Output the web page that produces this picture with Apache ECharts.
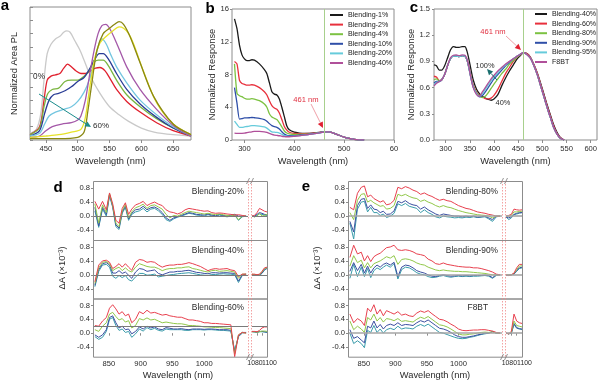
<!DOCTYPE html>
<html><head><meta charset="utf-8">
<script src="https://cdn.jsdelivr.net/npm/echarts@6/dist/echarts.min.js"></script>
<style>html,body{margin:0;padding:0;background:#fff}#c{width:600px;height:383px}</style>
</head><body><div id="c"></div>
<script>
// ---------------- Panel a : normalized PL ----------------
const aGrayX   = [425,435,442,447,452,458,465,472,478,483,488,495,503,510,520,535,550,565,580,600,620,650,678];
const aGrayY   = [0.05,0.08,0.2,0.45,0.65,0.72,0.76,0.78,0.81,0.82,0.81,0.75,0.68,0.6,0.48,0.35,0.25,0.19,0.14,0.09,0.06,0.04,0.03];
const aRedX    = [425,440,447,452,458,465,472,478,484,490,497,505,512,520,528,535,543,551,561,577,598,624,650,678];
const aRedY    = [0.04,0.1,0.3,0.45,0.48,0.49,0.5,0.54,0.57,0.55,0.52,0.5,0.5,0.52,0.54,0.545,0.52,0.46,0.38,0.29,0.21,0.13,0.07,0.03];
const aGreenX  = [425,440,447,453,460,470,480,490,500,510,518,525,532,540,548,561,577,598,624,650,678];
const aGreenY  = [0.04,0.09,0.25,0.35,0.38,0.39,0.44,0.45,0.45,0.48,0.52,0.58,0.6,0.6,0.56,0.45,0.34,0.25,0.16,0.09,0.03];
const aBlueX   = [425,440,448,455,462,470,480,490,500,510,518,526,534,540,548,561,577,598,624,650,678];
const aBlueY   = [0.03,0.07,0.2,0.3,0.34,0.35,0.37,0.4,0.44,0.47,0.53,0.6,0.65,0.65,0.61,0.5,0.38,0.27,0.17,0.09,0.03];
const aCyanX   = [425,440,448,455,465,478,490,500,510,518,527,532,538,545,552,561,577,598,624,650,678];
const aCyanY   = [0.03,0.05,0.12,0.18,0.21,0.23,0.25,0.29,0.36,0.45,0.6,0.7,0.76,0.72,0.64,0.55,0.43,0.3,0.19,0.1,0.03];
const aPurpleX = [425,440,450,460,475,490,500,505,512,519,526,532,538,544,550,561,577,598,624,650,678];
const aPurpleY = [0.02,0.03,0.07,0.1,0.12,0.13,0.15,0.18,0.3,0.5,0.68,0.8,0.86,0.87,0.84,0.73,0.55,0.38,0.23,0.11,0.03];
const aYellowX = [425,450,470,490,505,512,519,527,535,545,555,565,572,580,588,603,624,650,678];
const aYellowY = [0.02,0.03,0.04,0.06,0.08,0.17,0.4,0.62,0.73,0.78,0.82,0.85,0.84,0.8,0.72,0.52,0.28,0.12,0.04];
const aOliveX  = [425,470,500,510,516,522,530,540,550,558,565,572,582,598,619,650,678];
const aOliveY  = [0.01,0.01,0.02,0.06,0.22,0.42,0.67,0.8,0.84,0.87,0.89,0.87,0.78,0.58,0.33,0.12,0.04];
const aXTicks  = [450,500,550,600,650];

// ---------------- Panel b : response, low blending ----------------
const bNames = ['Blending-1%','Blending-2%','Blending-4%','Blending-10%','Blending-20%','Blending-40%'];
const bX      = [280,285,290,295,300,305,310,315,320,330,340,345,350,355,360,365,370,375,380,385,390,400,410,420,430,440,450,461,470,480,490,500,510,520,530,540];
const b1Y     = [14.8,13.6,11.6,10.4,9.9,9.7,9.7,9.8,9.75,9.3,8.6,8.1,7.0,5.9,5.6,5.5,5.0,4.0,2.85,1.7,1.25,0.95,0.85,0.8,0.82,0.86,0.92,1.0,0.98,0.82,0.58,0.36,0.2,0.08,0.02,0.0];
const b2Y     = [9.6,9.3,7.3,6.9,6.8,6.7,6.7,6.75,6.7,6.4,5.9,5.5,4.8,4.2,3.9,3.75,3.3,2.5,1.65,1.2,0.95,0.8,0.78,0.78,0.8,0.85,0.92,1.0,0.98,0.82,0.58,0.36,0.2,0.08,0.02,0.0];
const b4Y     = [9.3,5.7,5.4,5.3,5.1,5.0,5.0,5.05,5.0,4.8,4.4,4.0,3.2,2.8,2.65,2.5,2.1,1.6,1.1,0.85,0.75,0.68,0.68,0.7,0.75,0.82,0.9,1.0,0.98,0.82,0.58,0.36,0.2,0.08,0.02,0.0];
const b10Y    = [6.4,4.5,2.55,2.6,2.7,2.7,2.72,2.75,2.72,2.65,2.5,2.3,2.0,1.75,1.62,1.55,1.35,1.0,0.72,0.58,0.52,0.52,0.58,0.64,0.7,0.78,0.88,1.0,0.98,0.82,0.58,0.36,0.2,0.08,0.02,0.0];
const b20Y    = [2.3,1.9,1.55,1.55,1.6,1.65,1.7,1.75,1.75,1.7,1.6,1.45,1.2,1.0,0.95,0.92,0.85,0.7,0.55,0.46,0.44,0.46,0.54,0.6,0.68,0.77,0.87,1.0,0.98,0.82,0.58,0.36,0.2,0.08,0.02,0.0];
const b40Y    = [0.85,0.82,0.8,0.82,0.85,0.9,0.95,1.0,1.05,1.05,1.0,0.92,0.8,0.68,0.6,0.56,0.52,0.46,0.42,0.4,0.4,0.45,0.52,0.6,0.68,0.77,0.87,1.0,0.98,0.82,0.58,0.36,0.2,0.08,0.02,0.0];
const bXTicks = [300,400,500,600];

// ---------------- Panel c : response, high blending ----------------
const cNames = ['Blending-40%','Blending-60%','Blending-80%','Blending-90%','Blending-95%','F8BT'];
const cX      = [276,281,287,292,298,304,310,316,322,328,334,340,344,348,352,357,364,370,376,382,388,394,400,408,416,424,432,440,448,455,461,468,475,482,490,497,503,510,517,523,530,537,545];
const c40Y    = [0.86,0.85,0.8,0.8,0.85,0.94,1.03,1.07,1.06,1.06,1.07,1.07,1.02,0.93,0.82,0.69,0.58,0.53,0.5,0.48,0.465,0.455,0.47,0.52,0.62,0.71,0.79,0.86,0.93,0.97,1.0,0.99,0.95,0.87,0.76,0.64,0.53,0.4,0.28,0.18,0.09,0.03,0.0];
const c60Y    = [0.73,0.72,0.68,0.69,0.75,0.85,0.93,0.96,0.96,0.955,0.965,0.96,0.92,0.84,0.74,0.63,0.55,0.51,0.49,0.475,0.47,0.48,0.51,0.58,0.67,0.76,0.83,0.9,0.95,0.98,1.0,0.99,0.95,0.87,0.76,0.63,0.52,0.39,0.27,0.17,0.08,0.03,0.0];
const c80Y    = [0.69,0.7,0.68,0.69,0.75,0.85,0.93,0.96,0.96,0.955,0.965,0.96,0.92,0.83,0.73,0.62,0.54,0.5,0.485,0.5,0.54,0.59,0.64,0.7,0.76,0.81,0.87,0.91,0.95,0.98,1.0,0.98,0.94,0.86,0.74,0.61,0.5,0.37,0.25,0.15,0.07,0.02,0.0];
const c90Y    = [0.65,0.67,0.67,0.69,0.75,0.85,0.93,0.96,0.96,0.955,0.965,0.96,0.92,0.83,0.72,0.61,0.53,0.495,0.51,0.55,0.6,0.65,0.7,0.75,0.8,0.85,0.89,0.93,0.96,0.985,1.0,0.98,0.94,0.86,0.74,0.61,0.5,0.37,0.25,0.15,0.07,0.02,0.0];
const c95Y    = [0.63,0.66,0.67,0.69,0.75,0.85,0.93,0.96,0.96,0.955,0.965,0.96,0.92,0.83,0.72,0.61,0.53,0.5,0.53,0.58,0.63,0.68,0.72,0.77,0.82,0.86,0.9,0.93,0.96,0.985,1.0,0.98,0.94,0.86,0.74,0.61,0.5,0.37,0.25,0.15,0.07,0.02,0.0];
const cF8Y    = [0.62,0.65,0.67,0.69,0.75,0.85,0.94,0.97,0.975,0.965,0.975,0.97,0.93,0.84,0.72,0.6,0.52,0.5,0.55,0.6,0.65,0.7,0.74,0.79,0.83,0.87,0.9,0.93,0.96,0.985,1.0,0.98,0.94,0.86,0.74,0.61,0.5,0.37,0.25,0.15,0.07,0.02,0.0];
const cXTicks = [300,350,400,450,500,550,600];

// ---------------- Panels d / e : transient absorption ----------------
const dX  = [828,834,840,846,851,856, 861,866,871,876,881,886, 892,898,904,910,916,922, 928,934,940,946,952,958, 964,970,976,982,988,994, 1000,1006,1012,1018,1024,1030, 1036,1042,1048,1054,1060,1066];
const dXR = [1070,1075,1080,1085,1090,1095,1100];
const dLeftTicks = [850,900,950,1000];
const dRightTicksA = [1080];
const dRightTicksB = [1100];
const dYTicks = [-0.4,0,0.4,0.8];

// Blending-20%
const d20_red   = [0.42,0.2,0.42,0.18,0.66,0.35, -0.12,-0.2,0.22,0.38,0.05,0.2, 0.32,0.36,0.42,0.3,0.36,0.4, 0.34,0.3,0.18,0.12,0.1,0.06, 0.1,0.18,0.22,0.2,0.18,0.16, 0.14,0.15,0.1,0.08,0.09,0.08, 0.06,0.05,0.03,0.04,0.02,0.0];
const d20_green = [0.35,-0.2,0.32,0.1,0.64,0.3, -0.2,-0.3,0.15,0.33,-0.05,0.12, 0.24,0.28,0.34,0.22,0.3,0.32, 0.26,0.2,0.05,-0.05,0.02,0.0, 0.05,0.1,0.14,0.12,0.1,0.08, 0.06,0.08,0.06,0.04,0.06,0.04, 0.02,0.0,0.04,-0.1,0.0,0.0];
const d20_blue  = [0.25,-0.28,0.25,0.05,0.62,0.28, -0.25,-0.34,0.12,0.28,-0.08,0.08, 0.18,0.2,0.28,0.18,0.24,0.26, 0.2,0.1,-0.05,-0.12,-0.05,-0.02, 0.02,0.06,0.1,0.08,0.05,0.04, 0.03,0.06,0.03,0.01,0.05,0.02, 0.0,0.03,0.05,0.0,0.0,0.0];
const d20_teal  = [0.15,-0.32,0.2,0.0,0.58,0.25, -0.3,-0.38,0.08,0.25,-0.12,0.05, 0.12,0.15,0.22,0.12,0.2,0.22, 0.15,0.05,-0.1,-0.15,-0.08,-0.03, 0.0,0.04,0.08,0.06,0.03,0.02, 0.0,0.04,0.01,-0.01,0.03,0.0, -0.02,0.0,0.03,-0.12,-0.02,0.0];
const d20r_red   = [0.0,0.02,0.1,0.22,0.18,0.14,0.12];
const d20r_green = [0.0,-0.02,0.0,0.08,0.0,0.02,0.05];
const d20r_blue  = [0.0,0.0,0.05,0.1,0.08,0.05,0.04];
const d20r_teal  = [0.0,-0.02,0.02,0.06,0.05,0.03,0.02];

// Blending-40%
const d40_red   = [-0.2,0.28,0.4,0.42,0.36,0.18, 0.24,0.32,0.22,0.32,0.22,0.13, 0.36,0.44,0.42,0.36,0.38,0.36, 0.28,0.22,0.26,0.28,0.28,0.3, 0.3,0.32,0.35,0.32,0.28,0.24, 0.18,0.12,0.16,0.18,0.16,0.17, 0.18,0.14,0.12,-0.05,0.02,0.02];
const d40_green = [-0.25,0.2,0.36,0.38,0.32,0.12, 0.18,0.22,0.12,0.2,0.12,0.08, 0.22,0.32,0.28,0.24,0.22,0.22, 0.18,0.12,0.16,0.18,0.18,0.2, 0.2,0.22,0.23,0.18,0.16,0.13, 0.1,0.08,0.12,0.13,0.1,0.11, 0.12,0.1,0.08,-0.1,0.02,0.02];
const d40_blue  = [-0.3,0.15,0.32,0.35,0.28,0.05, 0.05,0.12,0.04,0.08,-0.01,-0.1, 0.08,0.18,0.16,0.1,0.12,0.14, 0.04,0.0,0.04,0.08,0.08,0.1, 0.1,0.12,0.13,0.1,0.07,0.06, 0.04,0.03,0.06,0.06,0.05,0.06, 0.06,0.05,0.04,-0.18,0.0,0.02];
const d40_teal  = [-0.34,0.1,0.28,0.3,0.22,-0.04, -0.1,-0.02,-0.08,-0.02,-0.14,-0.18, -0.06,0.04,0.04,-0.01,0.0,0.02, -0.06,-0.04,-0.02,0.0,0.01,0.03, 0.04,0.05,0.06,0.04,0.02,0.0, -0.01,-0.02,0.01,0.01,0.02,0.03, 0.02,0.02,0.0,-0.22,-0.02,0.0];
const d40r_red   = [0.02,0.02,0.0,0.02,0.1,0.2,0.22];
const d40r_green = [0.02,0.0,0.0,0.0,0.08,0.18,0.2];
const d40r_blue  = [0.0,0.0,0.0,0.0,0.05,0.15,0.18];
const d40r_teal  = [0.0,0.0,0.0,-0.02,0.04,0.14,0.2];

// Blending-60%
const d60_red   = [0.22,0.2,0.35,0.45,0.72,0.82, 0.7,0.55,0.62,0.5,0.55,0.3, 0.4,0.62,0.56,0.66,0.58,0.6, 0.56,0.52,0.54,0.5,0.48,0.46, 0.46,0.42,0.38,0.38,0.36,0.34, 0.3,0.3,0.28,0.28,0.27,0.26, 0.25,0.24,-0.68,-0.05,0.02,0.0];
const d60_green = [0.1,0.05,0.2,0.3,0.55,0.6, 0.48,0.38,0.42,0.32,0.36,0.15, 0.22,0.42,0.38,0.44,0.38,0.4, 0.35,0.3,0.32,0.3,0.28,0.27, 0.27,0.25,0.22,0.22,0.21,0.2, 0.18,0.18,0.17,0.16,0.16,0.15, 0.14,0.13,-0.6,-0.05,0.02,0.0];
const d60_blue  = [-0.05,-0.12,-0.05,0.1,0.45,0.5, 0.3,0.15,0.2,0.1,0.12,-0.02, 0.05,0.18,0.12,0.2,0.15,0.18, 0.12,0.1,0.16,0.14,0.12,0.12, 0.13,0.11,0.1,0.12,0.12,0.12, 0.11,0.12,0.12,0.11,0.1,0.1, 0.1,0.08,-0.55,-0.08,0.02,0.02];
const d60_teal  = [-0.1,-0.18,-0.12,0.05,0.4,0.45, 0.22,0.08,0.12,0.02,0.05,-0.12, -0.02,0.12,0.06,0.16,0.1,0.14, 0.08,0.06,0.12,0.1,0.1,0.1, 0.1,0.08,0.08,0.1,0.1,0.1, 0.09,0.1,0.1,0.09,0.08,0.08, 0.07,0.06,-0.5,-0.1,0.0,0.02];
const d60r_red   = [0.05,0.05,0.04,0.08,0.15,0.18,0.18];
const d60r_green = [0.04,0.04,0.03,0.04,0.06,0.06,0.05];
const d60r_blue  = [0.05,0.04,0.03,0.05,0.05,0.04,0.03];
const d60r_teal  = [0.04,0.03,0.02,0.04,0.04,0.03,0.02];

// Blending-80%
const e80_red   = [0.25,0.18,0.65,0.82,0.86,0.55, 0.6,0.5,0.45,0.4,0.44,0.32, 0.35,0.45,0.82,0.78,0.84,0.8, 0.74,0.7,0.62,0.66,0.6,0.56, 0.5,0.45,0.48,0.44,0.42,0.36, 0.3,0.26,0.22,0.2,0.16,0.12, 0.1,0.08,0.05,0.03,0.0,0.0];
const e80_green = [0.1,-0.1,0.45,0.62,0.64,0.4, 0.45,0.38,0.33,0.28,0.3,0.2, 0.22,0.3,0.62,0.58,0.62,0.56, 0.52,0.5,0.42,0.46,0.4,0.36, 0.3,0.26,0.3,0.26,0.24,0.2, 0.16,0.13,0.1,0.08,0.06,0.04, 0.03,0.02,0.0,-0.05,0.0,0.0];
const e80_blue  = [-0.15,-0.45,0.3,0.48,0.5,0.22, 0.32,0.2,0.18,0.1,0.14,0.05, 0.06,0.15,0.42,0.38,0.44,0.36, 0.32,0.3,0.2,0.26,0.18,0.12, 0.06,0.02,0.06,0.04,0.02,0.0, 0.0,-0.02,0.0,-0.02,0.0,-0.03, -0.02,0.0,-0.05,-0.1,0.0,0.0];
const e80_teal  = [-0.2,-0.65,0.2,0.4,0.42,0.12, 0.25,0.1,0.1,0.02,0.06,-0.04, 0.0,0.08,0.35,0.3,0.36,0.28, 0.25,0.22,0.1,0.18,0.1,0.05, -0.02,-0.05,0.0,-0.02,-0.03,-0.05, -0.04,-0.05,-0.03,-0.04,-0.02,-0.04, -0.03,-0.02,-0.08,-0.15,-0.02,0.0];
const e80r_red   = [0.0,0.02,0.05,0.2,0.18,0.17,0.18];
const e80r_green = [0.0,0.0,0.02,0.12,0.12,0.13,0.14];
const e80r_blue  = [-0.02,-0.05,-0.02,0.05,0.08,0.1,0.1];
const e80r_teal  = [-0.02,-0.1,-0.05,0.04,0.06,0.08,0.1];

// Blending-90%
const e90_red   = [0.5,0.85,0.6,0.65,0.4,0.55, 0.38,0.52,0.58,0.62,0.7,0.78, 0.8,0.85,0.72,0.7,0.72,0.7, 0.66,0.6,0.58,0.55,0.45,0.4, 0.32,0.3,0.34,0.3,0.28,0.26, 0.24,0.23,0.22,0.22,0.2,0.2, 0.18,0.15,0.12,0.08,0.02,0.0];
const e90_green = [0.25,0.55,0.35,0.42,0.2,0.35, 0.2,0.32,0.36,0.4,0.46,0.52, 0.48,0.55,0.3,0.44,0.46,0.44, 0.4,0.34,0.3,0.28,0.22,0.18, 0.14,0.12,0.14,0.12,0.11,0.1, 0.1,0.09,0.09,0.08,0.07,0.06, 0.05,0.04,0.02,0.0,0.0,0.0];
const e90_blue  = [0.1,0.35,0.12,0.3,0.05,0.25, 0.05,0.2,0.28,0.22,0.3,0.34, 0.28,0.36,-0.05,0.22,0.28,0.26, 0.2,0.12,0.08,0.05,0.0,-0.04, -0.05,-0.02,0.0,-0.02,-0.04,-0.03, -0.02,-0.03,-0.02,-0.03,-0.02,-0.02, -0.02,-0.01,-0.02,-0.08,0.0,0.0];
const e90_teal  = [-0.1,0.3,-0.05,0.22,-0.05,0.18, -0.08,0.12,0.2,0.15,0.22,0.28, 0.22,0.32,-0.12,0.15,0.22,0.2, 0.14,0.06,0.02,0.0,-0.05,-0.08, -0.07,-0.04,-0.02,-0.05,-0.07,-0.05, -0.04,-0.05,-0.04,-0.05,-0.04,-0.04, -0.03,-0.02,-0.04,-0.1,-0.02,0.0];
const e90r_red   = [0.0,-0.02,0.0,0.05,0.2,0.3,0.3];
const e90r_green = [0.0,0.0,0.0,0.04,0.15,0.25,0.26];
const e90r_blue  = [-0.02,0.0,0.0,0.03,0.12,0.2,0.22];
const e90r_teal  = [-0.02,-0.02,0.0,0.02,0.1,0.18,0.2];

// F8BT
const eF8_red   = [0.55,0.3,0.42,0.35,0.22,0.72, 0.62,0.82,0.55,0.68,0.5,0.65, 0.6,0.55,0.62,0.52,0.55,0.5, 0.48,0.58,0.64,0.6,0.65,0.56, 0.48,0.4,0.38,0.33,0.26,0.2, 0.12,0.08,0.07,0.08,0.09,0.09, 0.1,0.1,0.08,0.06,0.02,0.0];
const eF8_green = [0.35,0.1,0.2,0.12,0.02,0.45, 0.38,0.55,0.35,0.45,0.32,0.42, 0.4,0.36,0.42,0.34,0.36,0.34, 0.32,0.4,0.46,0.42,0.48,0.4, 0.32,0.24,0.22,0.18,0.12,0.05, -0.02,-0.05,-0.05,-0.03,-0.02,0.0, 0.02,0.03,0.02,0.04,0.0,0.0];
const eF8_blue  = [0.1,-0.15,-0.1,-0.2,-0.28,0.2, 0.15,0.35,0.15,0.25,0.12,0.22, 0.26,0.22,0.3,0.22,0.25,0.24, 0.22,0.3,0.36,0.32,0.38,0.3, 0.22,0.14,0.12,0.08,0.02,-0.05, -0.1,-0.12,-0.12,-0.1,-0.08,-0.05, -0.03,0.0,0.0,0.04,0.0,0.0];
const eF8_teal  = [0.0,-0.3,-0.22,-0.3,-0.42,0.08, 0.02,0.22,0.02,0.12,0.0,0.1, 0.14,0.1,0.2,0.12,0.15,0.14, 0.12,0.2,0.25,0.2,0.26,0.18, 0.1,0.02,0.0,-0.04,-0.08,-0.12, -0.15,-0.16,-0.15,-0.12,-0.1,-0.07, -0.04,-0.02,0.0,0.05,0.0,0.0];
const eF8r_red   = [0.0,-0.02,0.05,0.55,0.35,0.3,0.28];
const eF8r_green = [0.0,-0.02,0.02,0.35,0.22,0.2,0.18];
const eF8r_blue  = [0.0,-0.02,0.0,0.28,0.16,0.13,0.12];
const eF8r_teal  = [0.0,-0.02,0.0,0.25,0.14,0.12,0.1];

const subLabels = [['Blending-20%','Blending-40%','Blending-60%'],['Blending-80%','Blending-90%','F8BT']];
const zeroLevels = [[0,0,0.2],[0,0,0]];

// ================= build =================
const F = '"Liberation Sans", Arial, Helvetica, sans-serif';
const TXT = '#2a2a2a';
const FRAME = '#8c8c8c';
const TICKFS = 7.6, NAMEFS = 9.3, RFS = 6.9;
const zip = (xs, ys) => xs.map((x, i) => [x, ys[i]]);
const grids = [], xAxes = [], yAxes = [], series = [], graphics = [], extraX = [];

function line(gi, name, xs, ys, color, width, smooth, extra) {
  return Object.assign({
    type: 'line', name: name, xAxisIndex: gi, yAxisIndex: gi, data: zip(xs, ys),
    showSymbol: false, symbol: 'none', smooth: smooth || false,
    lineStyle: { color: color, width: width }, itemStyle: { color: color },
    emphasis: { disabled: true }, silent: true
  }, extra || {});
}
const tickStyle = { color: FRAME, width: 1 };
const lbl = (o) => Object.assign({ fontSize: TICKFS, color: TXT, fontFamily: F, showMinLabel: true, showMaxLabel: true, hideOverlap: false }, o);
const nameStyle = { fontSize: NAMEFS, color: TXT, fontFamily: F };

// ---- grid 0 : a ----
grids.push({ left: 30, top: 7, width: 161, height: 133, show: true, borderColor: FRAME, borderWidth: 1, outerBoundsMode: 'none' });
xAxes.push({ gridIndex: 0, type: 'value', min: 425, max: 678, axisLine: { show: false }, splitLine: { show: false },
  axisTick: { show: true, customValues: aXTicks, length: 3, lineStyle: tickStyle },
  axisLabel: lbl({ customValues: aXTicks, margin: 5 }),
  name: 'Wavelength (nm)', nameLocation: 'middle', nameGap: 16.5, nameTextStyle: nameStyle });
yAxes.push({ gridIndex: 0, type: 'value', min: 0, max: 1, interval: 0.1, axisLine: { show: false }, splitLine: { show: false },
  axisLabel: { show: false }, axisTick: { show: true, inside: true, length: 3, lineStyle: tickStyle },
  name: 'Normalized Area PL', nameLocation: 'middle', nameGap: 11.5, nameTextStyle: nameStyle });
[[aGrayX,aGrayY,'#c9c9c9'],[aRedX,aRedY,'#e0202e'],[aGreenX,aGreenY,'#7ab540'],[aBlueX,aBlueY,'#2a3d96'],
 [aCyanX,aCyanY,'#74c6e0'],[aPurpleX,aPurpleY,'#a458a8'],[aYellowX,aYellowY,'#e6e22a'],[aOliveX,aOliveY,'#8a8812']]
 .forEach((s, i) => series.push(line(0, 'a' + i, s[0], s[1], s[2], 1.3, 0.3)));

// ---- grid 1 : b ----
grids.push({ left: 232, top: 9, width: 162, height: 131, show: true, borderColor: FRAME, borderWidth: 1, outerBoundsMode: 'none' });
xAxes.push({ gridIndex: 1, type: 'value', min: 275, max: 600, axisLine: { show: false }, splitLine: { show: false },
  axisTick: { show: true, customValues: bXTicks, length: 3, lineStyle: tickStyle },
  axisLabel: lbl({ customValues: bXTicks, margin: 5, formatter: v => v === 600 ? '60' : String(v) }),
  name: 'Wavelength (nm)', nameLocation: 'middle', nameGap: 16.5, nameTextStyle: nameStyle });
yAxes.push({ gridIndex: 1, type: 'value', min: 0, max: 16, interval: 4, axisLine: { show: false }, splitLine: { show: false },
  axisLabel: lbl({ margin: 3 }), axisTick: { show: true, length: 2, lineStyle: tickStyle },
  name: 'Normalized Response', nameLocation: 'middle', nameGap: 14.5, nameTextStyle: nameStyle });
const bCols = ['#1a1a1a','#e8303c','#7cc242','#2f4fa8','#66cbdb','#b0509a'];
[b1Y,b2Y,b4Y,b10Y,b20Y,b40Y].forEach((ys, i) => series.push(line(1, 'b:' + bNames[i], bX, ys, bCols[i], 1.3, 0.2)));

// ---- grid 2 : c ----
grids.push({ left: 434, top: 9, width: 163, height: 131, show: true, borderColor: FRAME, borderWidth: 1, outerBoundsMode: 'none' });
xAxes.push({ gridIndex: 2, type: 'value', min: 276, max: 613, axisLine: { show: false }, splitLine: { show: false },
  axisTick: { show: true, customValues: cXTicks, length: 3, lineStyle: tickStyle },
  axisLabel: lbl({ customValues: cXTicks, margin: 5 }),
  name: 'Wavelength (nm)', nameLocation: 'middle', nameGap: 16.5, nameTextStyle: nameStyle });
yAxes.push({ gridIndex: 2, type: 'value', min: 0, max: 1.5, interval: 0.3, axisLine: { show: false }, splitLine: { show: false },
  axisLabel: lbl({ margin: 4, formatter: v => v.toFixed(1) }), axisTick: { show: true, length: 2, lineStyle: tickStyle },
  name: 'Normalized Response', nameLocation: 'middle', nameGap: 15.5, nameTextStyle: nameStyle });
const cCols = ['#1a1a1a','#e8303c','#7cc242','#2f4fa8','#66cbdb','#b0509a'];
[c40Y,c60Y,c80Y,c90Y,c95Y,cF8Y].forEach((ys, i) => series.push(line(2, 'c:' + cNames[i], cX, ys, cCols[i], 1.3, 0.25)));

// vertical 461 nm guide lines (b and c)
[1, 2].forEach(gi => series.push({ type: 'line', xAxisIndex: gi, yAxisIndex: gi, data: [], silent: true,
  markLine: { silent: true, symbol: 'none', label: { show: false }, lineStyle: { color: '#a8d08d', width: 1, type: 'solid' }, data: [{ xAxis: 461 }] } }));

// ---- d / e ----
const P = [{ L: 93, LW: 155, R: 252, RW: 15 }, { L: 348, LW: 154, R: 506, RW: 16 }];
const rowTop = [181, 240, 298.5], rowH = [59, 58.5, 58.2];
const dSets = [
  [[d20_teal,d20_blue,d20_green,d20_red],[d20r_teal,d20r_blue,d20r_green,d20r_red]],
  [[d40_teal,d40_blue,d40_green,d40_red],[d40r_teal,d40r_blue,d40r_green,d40r_red]],
  [[d60_teal,d60_blue,d60_green,d60_red],[d60r_teal,d60r_blue,d60r_green,d60r_red]]
];
const eSets = [
  [[e80_teal,e80_blue,e80_green,e80_red],[e80r_teal,e80r_blue,e80r_green,e80r_red]],
  [[e90_teal,e90_blue,e90_green,e90_red],[e90r_teal,e90r_blue,e90r_green,e90r_red]],
  [[eF8_teal,eF8_blue,eF8_green,eF8_red],[eF8r_teal,eF8r_blue,eF8r_green,eF8r_red]]
];
const deCols = ['#3a9cab','#3b4fa0','#92c84a','#e8404e'];
[dSets, eSets].forEach((sets, p) => {
  const g = P[p];
  for (let r = 0; r < 3; r++) {
    for (let s = 0; s < 2; s++) {
      const gi = grids.length;
      const bottom = r === 2;
      grids.push({ left: s ? g.R : g.L, top: rowTop[r], width: s ? g.RW : g.LW, height: rowH[r], show: false, outerBoundsMode: 'none' });
      const xt = s ? dRightTicksA : dLeftTicks;
      xAxes.push({ gridIndex: gi, type: 'value', min: s ? 1070 : 825, max: s ? 1100 : 1069,
        axisLine: { show: false }, splitLine: { show: false },
        axisTick: { show: bottom, customValues: s ? [1080, 1090, 1100] : xt, length: 2.5, lineStyle: tickStyle },
        axisLabel: lbl({ show: bottom, customValues: xt, margin: 3,
          formatter: s ? (v => '{r|' + v + '}') : (v => String(v)),
          rich: { r: { fontSize: RFS, color: TXT, fontFamily: F, padding: [0, 4, 0, 0] } } }) });
      if (s && bottom) {
        extraX.push({ gridIndex: gi, type: 'value', position: 'bottom', min: 1070, max: 1100,
          axisLine: { show: false }, splitLine: { show: false }, axisTick: { show: false },
          axisLabel: lbl({ customValues: dRightTicksB, margin: 3, formatter: v => '{l|' + v + '}',
            rich: { l: { fontSize: RFS, color: TXT, fontFamily: F, padding: [0, 0, 0, 5] } } }) });
      }
      yAxes.push({ gridIndex: gi, type: 'value', min: -0.68, max: 1.0,
        axisLine: { show: false }, splitLine: { show: false },
        axisTick: { show: !s, customValues: dYTicks, length: 2, lineStyle: tickStyle },
        axisLabel: lbl({ show: !s, customValues: dYTicks, margin: 3, formatter: v => v.toFixed(1) }) });
      const xs = s ? dXR : dX;
      sets[r][s].forEach((ys, k) => {
        const extra = k === 0 ? { markLine: { silent: true, symbol: 'none', label: { show: false },
          lineStyle: { color: p ? '#a6a6a6' : '#7a7a7a', width: p ? 1.6 : 1, type: 'solid' },
          data: [{ yAxis: zeroLevels[p][r] }] } } : {};
        series.push(line(gi, 'de' + gi + '_' + k, xs, ys, deCols[k], 1, false, extra));
      });
    }
    graphics.push({ type: 'rect', silent: true, z: 100,
      shape: { x: g.L + 0.5, y: rowTop[r] + 0.5, width: g.R + g.RW - g.L, height: rowH[r] },
      style: { fill: 'none', stroke: FRAME, lineWidth: 1 } });
    graphics.push({ type: 'text', silent: true, z: 100, x: p ? (r === 2 ? 488 : 498) : 244, y: rowTop[r] + (r === 2 ? 9 : 11),
      style: { text: subLabels[p][r], fill: TXT, fontSize: 8.4, fontFamily: F, align: 'right', verticalAlign: 'middle' } });
  }
  const bx1 = g.L + g.LW + 0.5, bx2 = g.R - 0.5;
  [bx1, bx2].forEach(bx => graphics.push({ type: 'line', silent: true, z: 101,
    shape: { x1: bx, y1: 181, x2: bx, y2: 357 }, style: { stroke: '#f08a8a', lineWidth: 0.8, lineDash: [1.5, 1.5] } }));
  [181, 357].forEach(yy => [bx1 - 2, bx2 - 1].forEach(xx => graphics.push({ type: 'line', silent: true, z: 102,
    shape: { x1: xx, y1: yy + 3, x2: xx + 3, y2: yy - 3 }, style: { stroke: '#777', lineWidth: 0.8 } })));
  const cx = p ? 435 : 178, yx = p ? 317 : 62;
  graphics.push({ type: 'text', silent: true, x: cx, y: 375,
    style: { text: 'Wavelength (nm)', fill: TXT, fontSize: NAMEFS, fontFamily: F, align: 'center', verticalAlign: 'middle' } });
  graphics.push({ type: 'text', silent: true, x: yx, y: 268, rotation: Math.PI / 2,
    style: { text: 'ΔA (×10⁻³)', fill: TXT, fontSize: 9.3, fontFamily: F, align: 'center', verticalAlign: 'middle' } });
});
extraX.forEach(a => xAxes.push(a));

// ---- annotations ----
function arrow(x1, y1, x2, y2, head, shaft) {
  const a = Math.atan2(y2 - y1, x2 - x1), L = 6, W = 2.8;
  const bx = x2 - L * Math.cos(a), by = y2 - L * Math.sin(a);
  const px = -Math.sin(a) * W, py = Math.cos(a) * W;
  graphics.push({ type: 'line', silent: true, z: 110, shape: { x1: x1, y1: y1, x2: bx, y2: by }, style: { stroke: shaft || head, lineWidth: 1 } });
  graphics.push({ type: 'polygon', silent: true, z: 110, shape: { points: [[x2, y2], [bx + px, by + py], [bx - px, by - py]] }, style: { fill: head } });
}
function txt(x, y, s, o) {
  graphics.push({ type: 'text', silent: true, z: 110, x: x, y: y,
    style: Object.assign({ text: s, fill: TXT, fontSize: 8, fontFamily: F, align: 'center', verticalAlign: 'middle' }, o || {}) });
}
txt(5, 6, 'a', { fontSize: 15, fontWeight: 'bold', fill: '#000' });
txt(210, 9, 'b', { fontSize: 15, fontWeight: 'bold', fill: '#000' });
txt(414, 8, 'c', { fontSize: 15, fontWeight: 'bold', fill: '#000' });
txt(58, 188, 'd', { fontSize: 15, fontWeight: 'bold', fill: '#000' });
txt(306, 187, 'e', { fontSize: 15, fontWeight: 'bold', fill: '#000' });
txt(39, 77, '0%', { fontSize: 8.2 });
arrow(39, 94, 91, 127, '#1a8c8c');
txt(93, 126, '60%', { fontSize: 8, align: 'left' });
txt(306, 100, '461 nm', { fontSize: 7.6, fill: '#e03040' });
arrow(311, 104, 323, 128, '#e02030', '#f0a0a8');
txt(493, 32, '461 nm', { fontSize: 7.6, fill: '#e03040' });
arrow(506, 36, 521, 50, '#e02030', '#f0a0a8');
txt(485, 66, '100%', { fontSize: 7.4 });
arrow(497, 80, 487, 69, '#1a6e6e');
txt(503, 103, '40%', { fontSize: 7.4 });

const legendCommon = { orient: 'vertical', itemWidth: 13, itemHeight: 2, itemGap: 0.6, icon: 'rect', selectedMode: false,
  textStyle: { fontSize: 7.1, color: '#222', fontFamily: F, lineHeight: 9 }, formatter: n => n.slice(2), padding: 0 };

const chart = echarts.init(document.getElementById('c'), null, { renderer: 'canvas' });
chart.setOption({
  animation: false,
  backgroundColor: '#fff',
  textStyle: { fontFamily: F },
  grid: grids, xAxis: xAxes, yAxis: yAxes, series: series,
  legend: [
    Object.assign({}, legendCommon, { left: 330, top: 10.5, data: bNames.map(n => 'b:' + n) }),
    Object.assign({}, legendCommon, { left: 535, top: 9.5, itemWidth: 12, data: cNames.map(n => 'c:' + n) })
  ],
  graphic: graphics
});
</script></body></html>
